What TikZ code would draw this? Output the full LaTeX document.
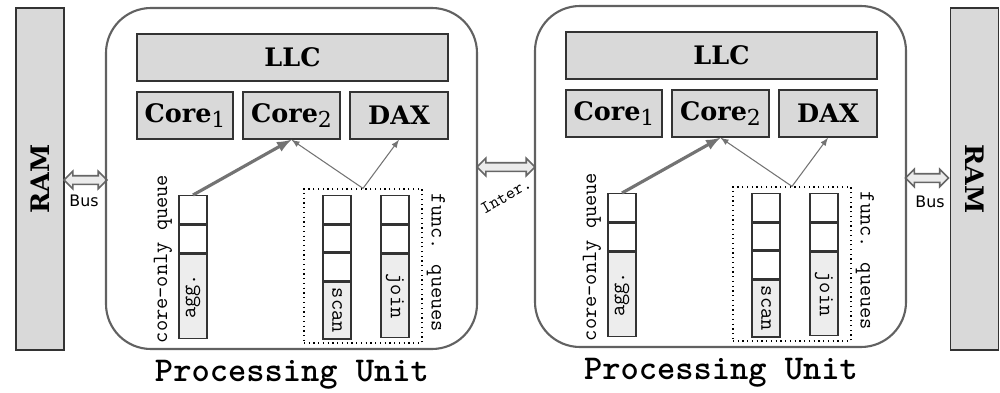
\documentclass[tikz,border=0pt]{standalone}
\usepackage{fontspec}
\setmainfont{DejaVu Serif}
\setsansfont{DejaVu Sans}
\usetikzlibrary{shapes.arrows}

\tikzset{
  unit/.style={draw=black!80, line width=0.8pt, fill=black!15, inner sep=0pt,
    font=\bfseries\fontsize{14.5}{16}\selectfont},
  pu/.style={draw=black!62, line width=1.2pt, rounded corners=0.9cm,
    minimum width=7.42cm, minimum height=6.82cm},
  cell/.style={draw=black!80, line width=0.8pt, fill=white, anchor=north,
    minimum width=0.56cm, minimum height=0.56cm, inner sep=0pt},
  taskcell/.style={cell, fill=black!7, font=\ttfamily\fontsize{12.4}{14}\selectfont},
  qlabel/.style={font=\ttfamily\fontsize{12.4}{14}\selectfont},
  busarrow/.style={double arrow, draw=black!60, fill=black!8, line width=0.9pt,
    minimum height=0.86cm, minimum width=0.34cm, inner sep=0.07cm,
    double arrow head extend=0.09cm},
}
\newcommand{\sub}[1]{\raisebox{-2.8pt}{\mdseries\fontsize{12.5}{14}\selectfont #1}}

\begin{document}
\begin{tikzpicture}
    \useasboundingbox (0,0) rectangle (20,7.84);

    % memory and buses
    \node[unit, rotate=90, minimum width=6.84cm, minimum height=0.96cm] (raml) at (0.80,4.26) {RAM};
    \node[busarrow] (busl) at (1.71,4.24) {};
    \node[font=\sffamily\fontsize{9}{10}\selectfont] (busltxt) at (1.68,3.82) {Bus};

    \node[unit, rotate=-90, minimum width=6.84cm, minimum height=0.96cm] (ramr) at (19.49,4.26) {RAM};
    \node[busarrow] (busr) at (18.54,4.28) {};
    \node[font=\sffamily\fontsize{9}{10}\selectfont] (busrtxt) at (18.60,3.80) {Bus};

    \node[busarrow, minimum height=1.16cm] (inter) at (10.12,4.50) {};
    \node[rotate=30, inner sep=0pt, font=\ttfamily\fontsize{10}{12}\selectfont] (intertxt) at (10.12,3.92) {Inter.};

    % the two processing units
    \foreach \dx/\dy/\p in {0/0/a, 8.58/0.04/b}{
    \begin{scope}[xshift=\dx cm, yshift=\dy cm]
        \node[pu] (pu\p) at (5.83,4.27) {};
        \node[unit, minimum width=6.22cm, minimum height=0.94cm] (llc\p) at (5.85,6.69) {LLC};
        \node[unit, minimum width=1.92cm, minimum height=0.94cm] (corea\p) at (3.70,5.53) {Core\sub{1}};
        \node[unit, minimum width=1.94cm, minimum height=0.94cm] (coreb\p) at (5.83,5.53) {Core\sub{2}};
        \node[unit, minimum width=1.96cm, minimum height=0.94cm] (dax\p) at (7.98,5.53) {DAX};

        % core-only queue
        \node[cell] (co1\p) at (3.86,3.94) {};
        \node[cell] (co2\p) at (co1\p.south) {};
        \node[taskcell, minimum height=1.68cm] (co3\p) at (co2\p.south) {\rotatebox{90}{agg.}};
        \node[qlabel, rotate=90] (colbl\p) at (3.26,2.66) {core-only queue};

        % func. queues
        \node[draw, dotted, line width=0.7pt, minimum width=2.36cm, minimum height=3.08cm] (fq\p) at (7.26,2.52) {};
        \node[cell] (sc1\p) at (6.74,3.94) {};
        \node[cell, minimum height=0.54cm] (sc2\p) at (sc1\p.south) {};
        \node[cell, minimum height=0.54cm] (sc3\p) at (sc2\p.south) {};
        \node[taskcell, minimum height=1.14cm] (sc4\p) at (sc3\p.south) {\rotatebox{-90}{scan}};
        \node[cell] (jo1\p) at (7.90,3.94) {};
        \node[cell] (jo2\p) at (jo1\p.south) {};
        \node[taskcell, minimum height=1.66cm] (jo3\p) at (jo2\p.south) {\rotatebox{-90}{join}};
        \node[qlabel, rotate=-90] (fqlbl\p) at (8.72,2.58) {func. queues};

        \draw[-latex, line width=1.8pt, black!55] (co1\p.north) -- (coreb\p.south);
        \draw[-latex, line width=0.6pt, black!55] (fq\p.north) -- (coreb\p.south);
        \draw[-latex, line width=0.6pt, black!55] (fq\p.north) -- (dax\p.south);

        \node[font=\ttfamily\bfseries\fontsize{19.8}{22}\selectfont] (pulbl\p) at (5.84,0.34) {Processing Unit};
    \end{scope}}
\end{tikzpicture}
\end{document}
